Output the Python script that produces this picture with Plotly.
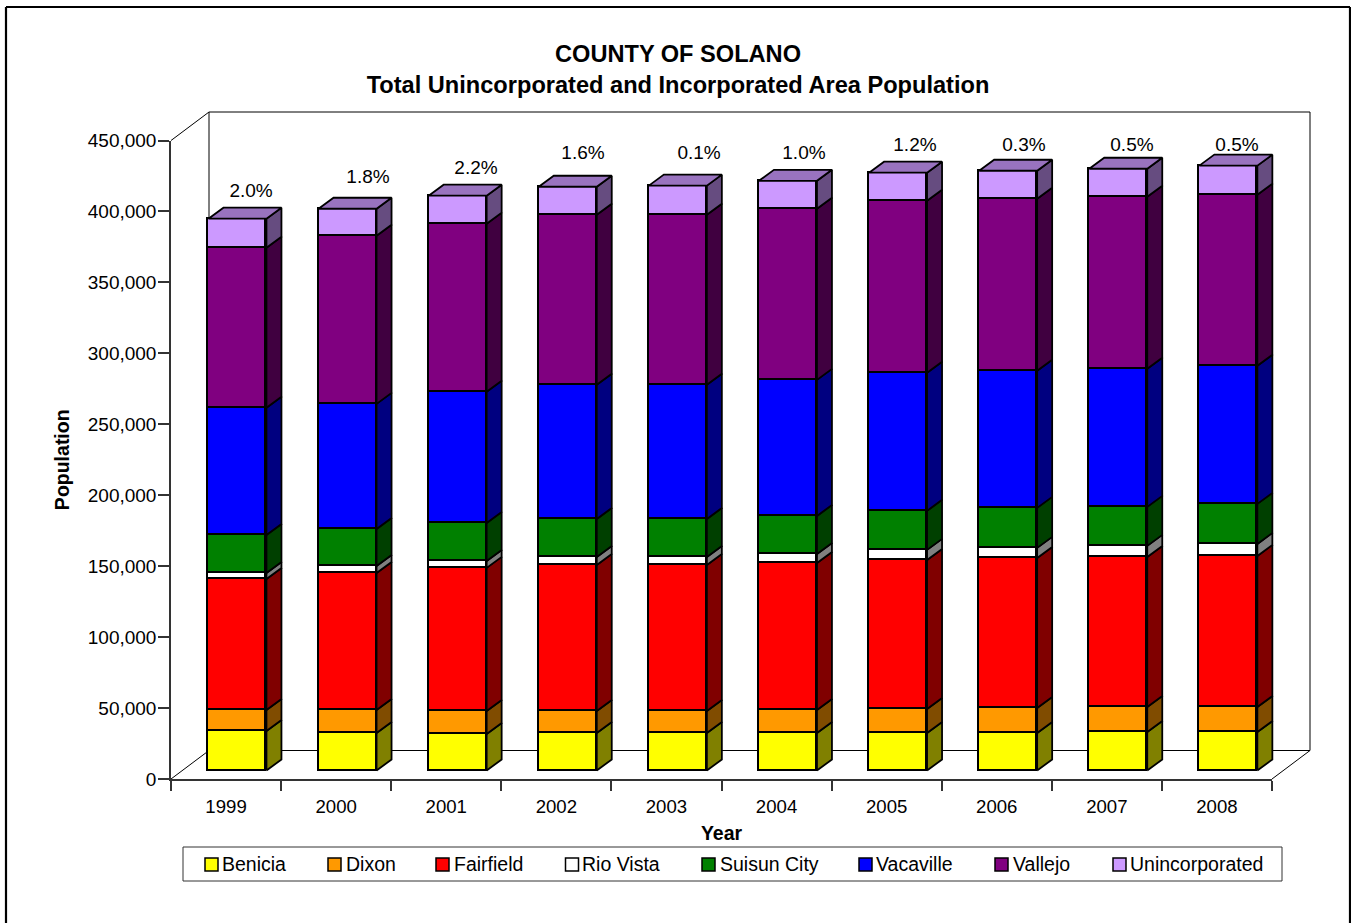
import plotly.graph_objects as go

years = ["1999", "2000", "2001", "2002", "2003", "2004", "2005", "2006", "2007", "2008"]
benicia = [27800, 26400, 25700, 26400, 26400, 26400, 26400, 26400, 27100, 27100]
dixon = [14800, 16200, 16200, 15500, 15500, 16200, 16900, 17600, 17600, 17600]
fairfield = [92400, 96600, 100900, 103000, 103000, 103700, 105100, 105800, 105800, 106500]
rio_vista = [4200, 4900, 4900, 5600, 5600, 6300, 7100, 7100, 7800, 8500]
suisun_city = [26800, 26100, 26800, 26800, 26800, 26800, 27500, 28200, 27500, 28200]
vacaville = [89600, 88200, 92400, 94500, 94500, 95900, 97300, 96600, 97300, 97300]
vallejo = [112800, 118500, 118500, 119900, 119900, 120600, 121300, 121300, 121300, 120600]
unincorporated = [20500, 19000, 19700, 19700, 20500, 19700, 19700, 19700, 19700, 20500]
growth_labels = ["2.0%", "1.8%", "2.2%", "1.6%", "0.1%", "1.0%", "1.2%", "0.3%", "0.5%", "0.5%"]
growth_label_x = [0.727, 1.789, 2.77, 3.742, 4.796, 5.749, 6.757, 7.747, 8.728, 9.682]
growth_label_y = [413700, 423600, 429900, 440500, 440500, 440500, 446100, 446100, 446100, 446100]
y_ticks = [0, 50000, 100000, 150000, 200000, 250000, 300000, 350000, 400000, 450000]
series_names = ["Benicia", "Dixon", "Fairfield", "Rio Vista", "Suisun City", "Vacaville", "Vallejo", "Unincorporated"]
series_values = [benicia, dixon, fairfield, rio_vista, suisun_city, vacaville, vallejo, unincorporated]

front_colors = ["#FFFF00", "#FF9900", "#FF0000", "#FFFFFF", "#008000", "#0000FF", "#800080", "#CC99FF"]
side_colors = ["#808000", "#804C00", "#800000", "#808080", "#004000", "#000080", "#400040", "#664C80"]
top_colors = ["#BFBF00", "#BF7300", "#BF0000", "#BFBFBF", "#006000", "#0000BF", "#600060", "#9973BF"]

W, H = 1351, 923
FONT = "Liberation Sans, Arial, sans-serif"
AX_L, AX_R, AX_T, AX_B = 171.0, 1272.0, 140.5, 779.0
WALL_R, WALL_T = 1310.0, 112.0
WALL_L, WALL_B = 209.0, 750.5
BAR_BASE_PX, BAR_SHIFT_PX = 770.5, 11.4
BAR_W_PX, SIDE_DX_PX, SIDE_DY_PX = 58.0, 15.0, 11.0
BAR_LINE = 1.8

px_x = (AX_R - AX_L) / 10.0
px_y = (AX_B - AX_T) / 450000.0
bar_width = BAR_W_PX / px_x
side_dx = SIDE_DX_PX / px_x
side_dy = SIDE_DY_PX / px_y


def fx(p):
    return p / W


def fy(p):
    return 1 - p / H


fig = go.Figure()
centers = [i + 0.5 for i in range(len(years))]

fig.add_trace(go.Scatter(x=growth_label_x, y=growth_label_y, text=growth_labels, mode="text",
                         textposition="middle center", showlegend=False, hoverinfo="skip", cliponaxis=False,
                         textfont=dict(family=FONT, size=19, color="#000000"), xaxis="x", yaxis="y"))

for name, vals, col in zip(series_names, series_values, front_colors):
    fig.add_trace(go.Bar(x=centers, y=vals, name=name, width=bar_width,
                         marker=dict(color=col, line=dict(color="#000000", width=BAR_LINE)),
                         xaxis="x2", yaxis="y2", showlegend=False))

cum = [0.0] * len(years)
for idx, (name, vals, scol, tcol) in enumerate(zip(series_names, series_values, side_colors, top_colors)):
    xs, ys, xt, yt = [], [], [], []
    for i, v in enumerate(vals):
        r = centers[i] + bar_width / 2
        l = centers[i] - bar_width / 2
        y0, y1 = cum[i], cum[i] + v
        xs += [r, r + side_dx, r + side_dx, r, r, None]
        ys += [y0, y0 + side_dy, y1 + side_dy, y1, y0, None]
        xt += [l, l + side_dx, r + side_dx, r, l, None]
        yt += [y1, y1 + side_dy, y1 + side_dy, y1, y1, None]
        cum[i] = y1
    fig.add_trace(go.Scatter(x=xs, y=ys, mode="lines", fill="toself", fillcolor=scol,
                             line=dict(color="#000000", width=BAR_LINE),
                             xaxis="x2", yaxis="y2", showlegend=False, hoverinfo="skip", name=name + " side"))
    if idx == len(series_names) - 1:
        fig.add_trace(go.Scatter(x=xt, y=yt, mode="lines", fill="toself", fillcolor=tcol,
                                 line=dict(color="#000000", width=BAR_LINE),
                                 xaxis="x2", yaxis="y2", showlegend=False, hoverinfo="skip", name=name + " top"))

shapes = []


def line(x0, y0, x1, y1, width=1.0, color="#000000", layer="below"):
    shapes.append(dict(type="line", xref="paper", yref="paper", x0=fx(x0), y0=fy(y0), x1=fx(x1), y1=fy(y1),
                       line=dict(color=color, width=width), layer=layer))


# 3D wall and floor
line(WALL_L, WALL_T, WALL_R, WALL_T, 1)
line(WALL_L, WALL_T, WALL_L, WALL_B, 1)
line(WALL_R, WALL_T, WALL_R, WALL_B, 1)
line(WALL_L, WALL_B, WALL_R, WALL_B, 1)
line(AX_L, AX_T, WALL_L, WALL_T, 1)
line(AX_L, AX_B, WALL_L, WALL_B, 1)
line(AX_R, AX_B, WALL_R, WALL_B, 1)
# outer frame
line(6, 7, 1350, 7, 2.2)
line(6, 7, 6, 923, 2.2)
line(1350, 7, 1350, 923, 2.2)
# legend
shapes.append(dict(type="rect", xref="paper", yref="paper", x0=fx(183), x1=fx(1282), y0=fy(847), y1=fy(881),
                   line=dict(color="#333333", width=1), fillcolor="#FFFFFF", layer="below"))
legend_swatch_px = [205, 328, 436, 565.5, 702, 859, 995, 1113]
legend_text_px = [221, 344.5, 452.5, 581, 718.5, 875, 1011.5, 1129]
annotations = []
for name, col, sx, tx in zip(series_names, front_colors, legend_swatch_px, legend_text_px):
    shapes.append(dict(type="rect", xref="paper", yref="paper", x0=fx(sx), x1=fx(sx + 13), y0=fy(858), y1=fy(871),
                       line=dict(color="#000000", width=1.5), fillcolor=col))
    annotations.append(dict(text=name, xref="paper", yref="paper", x=fx(tx), y=fy(864), xanchor="left", yanchor="middle",
                            showarrow=False, font=dict(family=FONT, size=19.5, color="#000000"), borderpad=0))

axis_grey = "#333333"
fig.update_layout(
    width=W, height=H, autosize=False, margin=dict(l=0, r=0, t=0, b=0),
    paper_bgcolor="#FFFFFF", plot_bgcolor="rgba(0,0,0,0)", barmode="stack", showlegend=False, bargap=0,
    shapes=shapes, annotations=annotations,
    font=dict(family=FONT, color="#000000"),
    title=dict(text="COUNTY OF SOLANO<br>Total Unincorporated and Incorporated Area Population",
               x=fx(678), xanchor="center", y=fy(62), yanchor="middle",
               font=dict(family=FONT, size=23.6, color="#000000", weight="bold")),
    xaxis=dict(domain=[fx(AX_L), fx(AX_R)], range=[0, 10], tickmode="array", tickvals=centers, ticktext=years,
               ticks="outside", ticklen=10, tickwidth=0, tickcolor="rgba(0,0,0,0)",
               minor=dict(tickmode="array", tickvals=list(range(11)), ticks="outside", ticklen=10, tickwidth=1.5,
                          tickcolor=axis_grey, showgrid=False),
               showgrid=False, zeroline=False, showline=True, linecolor=axis_grey, linewidth=1.5, anchor="y",
               tickfont=dict(family=FONT, size=18.6, color="#000000"),
               title=dict(text="Year", standoff=10, font=dict(family=FONT, size=19.5, color="#000000", weight="bold")),
               automargin=False),
    yaxis=dict(domain=[fy(AX_B), fy(AX_T)], range=[0, 450000], tickmode="array", tickvals=y_ticks,
               ticktext=[f"{v:,}" for v in y_ticks], ticks="outside", ticklen=11, tickwidth=1.5, tickcolor=axis_grey,
               ticklabelstandoff=-2,
               showgrid=False, zeroline=False, showline=True, linecolor=axis_grey, linewidth=1.5, anchor="x",
               tickfont=dict(family=FONT, size=19, color="#000000"),
               title=dict(text="Population", standoff=13, font=dict(family=FONT, size=19.5, color="#000000", weight="bold")),
               automargin=False),
    xaxis2=dict(domain=[fx(AX_L), fx(WALL_R)], anchor="y2", visible=False,
                range=[-BAR_SHIFT_PX / px_x, (WALL_R - AX_L - BAR_SHIFT_PX) / px_x]),
    yaxis2=dict(domain=[fy(AX_B), fy(WALL_T)], anchor="x2", visible=False,
                range=[-(AX_B - BAR_BASE_PX) / px_y, (BAR_BASE_PX - WALL_T) / px_y]),
)

fig.write_html("out.html", config=dict(displayModeBar=False),
               post_script="document.body.style.margin='0';document.body.style.overflow='hidden';")
